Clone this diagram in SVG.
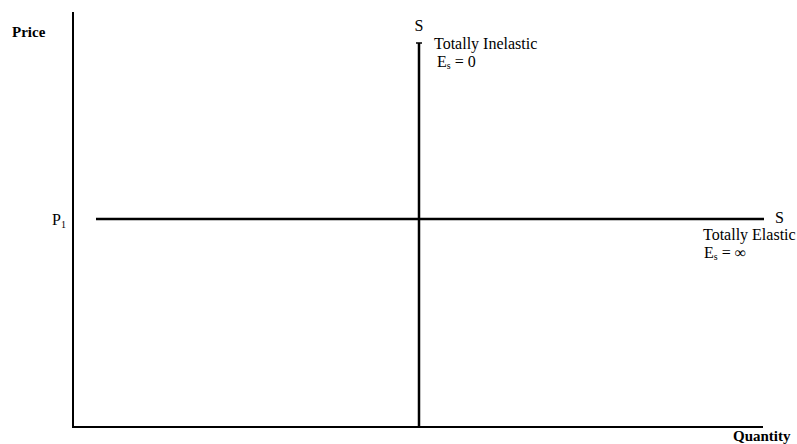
<svg xmlns="http://www.w3.org/2000/svg" width="797" height="444" viewBox="0 0 797 444">
<style>
text{font-family:"Liberation Serif","Times New Roman",serif;fill:#000;font-size:16px}
.b{font-weight:bold;font-size:15px}
.sub{font-size:10px}
.ax{stroke:#000;stroke-width:2;fill:none}
.crv{stroke:#000;stroke-width:2.5;fill:none}
</style>
<rect width="797" height="444" fill="#fff"/>
<g id="axes">
<polyline class="ax" points="73,12 73,427 763,427"/>
<text class="b" x="12" y="37">Price</text>
<text class="b" x="733" y="441">Quantity</text>
<text x="52" y="225">P<tspan class="sub" dy="3">1</tspan></text>
</g>
<g id="connectors">
<g id="inelastic">
<line class="crv" x1="419" y1="43" x2="419" y2="427"/>
<line stroke="#000" stroke-width="1.5" x1="416" y1="43" x2="422" y2="43"/>
<text x="414.5" y="31">S</text>
<text x="434" y="49">Totally Inelastic</text>
<text x="437" y="67">E<tspan class="sub" dy="2">s</tspan><tspan dy="-2"> = 0</tspan></text>
</g>
<g id="elastic">
<line class="crv" x1="96" y1="219" x2="764" y2="219"/>
<text x="775" y="223">S</text>
<text x="703" y="240">Totally Elastic</text>
<text x="704" y="258">E<tspan class="sub" dy="2">s</tspan><tspan dy="-2"> = ∞</tspan></text>
</g>
</g>
</svg>
